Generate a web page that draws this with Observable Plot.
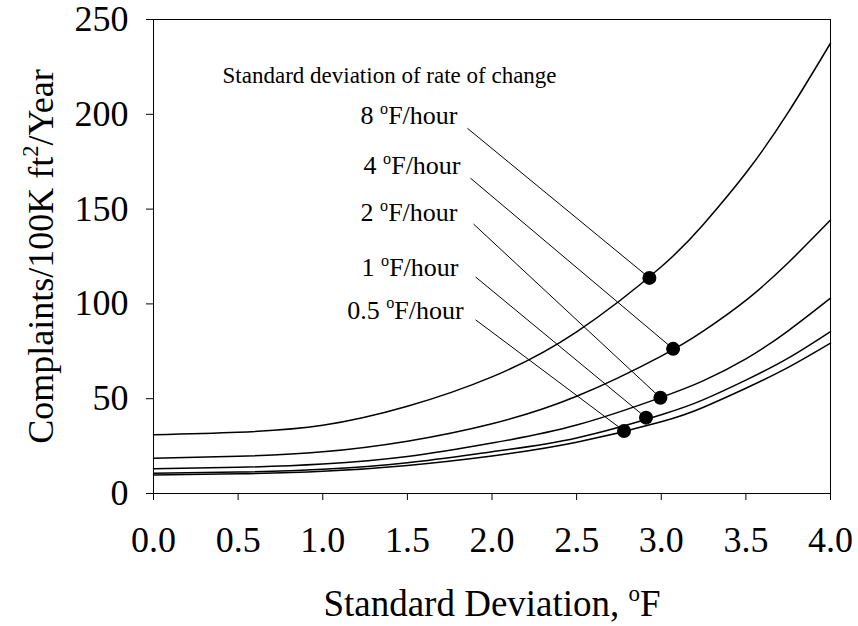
<!DOCTYPE html>
<html>
<head>
<meta charset="utf-8">
<script src="https://cdn.jsdelivr.net/npm/d3@7"></script>
<script src="https://cdn.jsdelivr.net/npm/@observablehq/plot@0.6"></script>
<style>
  html, body { margin: 0; padding: 0; background: #fff; }
  #chart { width: 858px; height: 626px; }
</style>
</head>
<body>
<div id="chart"></div>
<script>
// ---- data ----
const xValues = [0, 0.5, 1, 1.5, 2, 2.5, 3, 3.25, 3.5, 3.75, 4];
const rate8  = [31, 32.3, 36, 46, 61.5, 85.3, 119.6, 142, 169, 201, 237.5];
const rate4  = [18.6, 19.6, 22, 27.6, 36.8, 51.3, 72.5, 85.8, 101.9, 121.7, 144.2];
const rate2  = [13, 13.8, 15.6, 19.5, 26.6, 36.1, 50.7, 59.5, 71, 85.8, 103];
const rate1  = [10.7, 11.3, 12.8, 16.2, 22, 29.3, 41.5, 49.5, 59.8, 71.4, 85.4];
const rate05 = [9.8, 10.4, 11.7, 14.8, 19.8, 27, 37.8, 45.5, 55.5, 66.5, 79.3];

const seriesNames = ["8 °F/hour", "4 °F/hour", "2 °F/hour", "1 °F/hour", "0.5 °F/hour"];
const seriesValues = [rate8, rate4, rate2, rate1, rate05];

// highlighted points on each curve
const dotX = [2.93, 3.07, 2.995, 2.91, 2.78];
const dotY = [113.7, 76.3, 50.5, 40, 33];

// label anchor (right end of label text) and leader-line start, in data units
const labelX = [1.796, 1.814, 1.796, 1.802, 1.832];
const labelY = [194.7, 168.4, 143.7, 114.7, 92.1];
const leaderX = [1.855, 1.873, 1.891, 1.903, 1.903];
const leaderY = [192.6, 166.3, 142.1, 114.2, 91.6];

const headerText = "Standard deviation of rate of change";
const headerX = 0.408, headerY = 216.3;

const xTicks = [0, 0.5, 1, 1.5, 2, 2.5, 3, 3.5, 4];
const yTicks = [0, 50, 100, 150, 200, 250];
const xTitle = "Standard Deviation, °F";
const yTitle = "Complaints/100K ft²/Year";

// ---- build tables ----
const curveRows = seriesNames.flatMap((name, i) =>
  xValues.map((x, j) => ({series: name, x, y: seriesValues[i][j]})));
const pointRows = seriesNames.map((name, i) => ({
  series: name, x: dotX[i], y: dotY[i],
  lx: labelX[i], ly: labelY[i], sx: leaderX[i], sy: leaderY[i]
}));

const serif = "'Liberation Serif', 'Times New Roman', Times, serif";

const chart = Plot.plot({
  width: 858,
  height: 626,
  marginLeft: 153,
  marginRight: 28,
  marginTop: 19,
  marginBottom: 133,
  style: {fontFamily: serif, fontSize: "36px", background: "#fff", color: "#000"},
  x: {domain: [0, 4], ticks: xTicks, tickFormat: d => d.toFixed(1), tickSize: 7, tickPadding: 26, label: null},
  y: {domain: [0, 250], ticks: yTicks, tickSize: 7, tickPadding: 18, label: null},
  marks: [
    Plot.frame({stroke: "#000", strokeWidth: 1}),
    Plot.line(curveRows, {x: "x", y: "y", z: "series", curve: "natural", stroke: "#000", strokeWidth: 1.5}),
    Plot.link(pointRows, {x1: "sx", y1: "sy", x2: "x", y2: "y", stroke: "#000", strokeWidth: 1}),
    Plot.dot(pointRows, {x: "x", y: "y", r: 7, fill: "#000", stroke: "none"}),
    Plot.text(pointRows, {x: "lx", y: "ly", text: "series", textAnchor: "end", lineAnchor: "bottom", fontSize: 26, fill: "#000"}),
    Plot.text([headerText], {x: () => headerX, y: () => headerY, text: d => d, textAnchor: "start", lineAnchor: "bottom", fontSize: 23, fill: "#000"}),
    Plot.text([xTitle], {frameAnchor: "bottom", dy: 122, lineAnchor: "bottom", fontSize: 37, fill: "#000"}),
    Plot.text([yTitle], {frameAnchor: "left", dx: -101, rotate: -90, lineAnchor: "bottom", textAnchor: "middle", fontSize: 36, fill: "#000"})
  ]
});

document.getElementById("chart").appendChild(chart);

// turn ° and ² into raised small characters
const NS = "http://www.w3.org/2000/svg";
chart.querySelectorAll("text").forEach(el => {
  if (el.children.length) return;
  const s = el.textContent;
  if (!/[°²]/.test(s)) return;
  const fs = parseFloat(getComputedStyle(el).fontSize) || 36;
  el.textContent = "";
  let shifted = false;
  s.split(/([°²])/).forEach(p => {
    if (!p) return;
    const ts = document.createElementNS(NS, "tspan");
    if (p === "°" || p === "²") {
      ts.textContent = p === "°" ? "o" : "2";
      ts.setAttribute("font-size", (fs * 0.62).toFixed(2));
      ts.setAttribute("dy", (-fs * 0.4).toFixed(2));
      shifted = true;
    } else {
      ts.textContent = p;
      if (shifted) { ts.setAttribute("dy", (fs * 0.4).toFixed(2)); shifted = false; }
    }
    el.appendChild(ts);
  });
});
</script>
</body>
</html>
